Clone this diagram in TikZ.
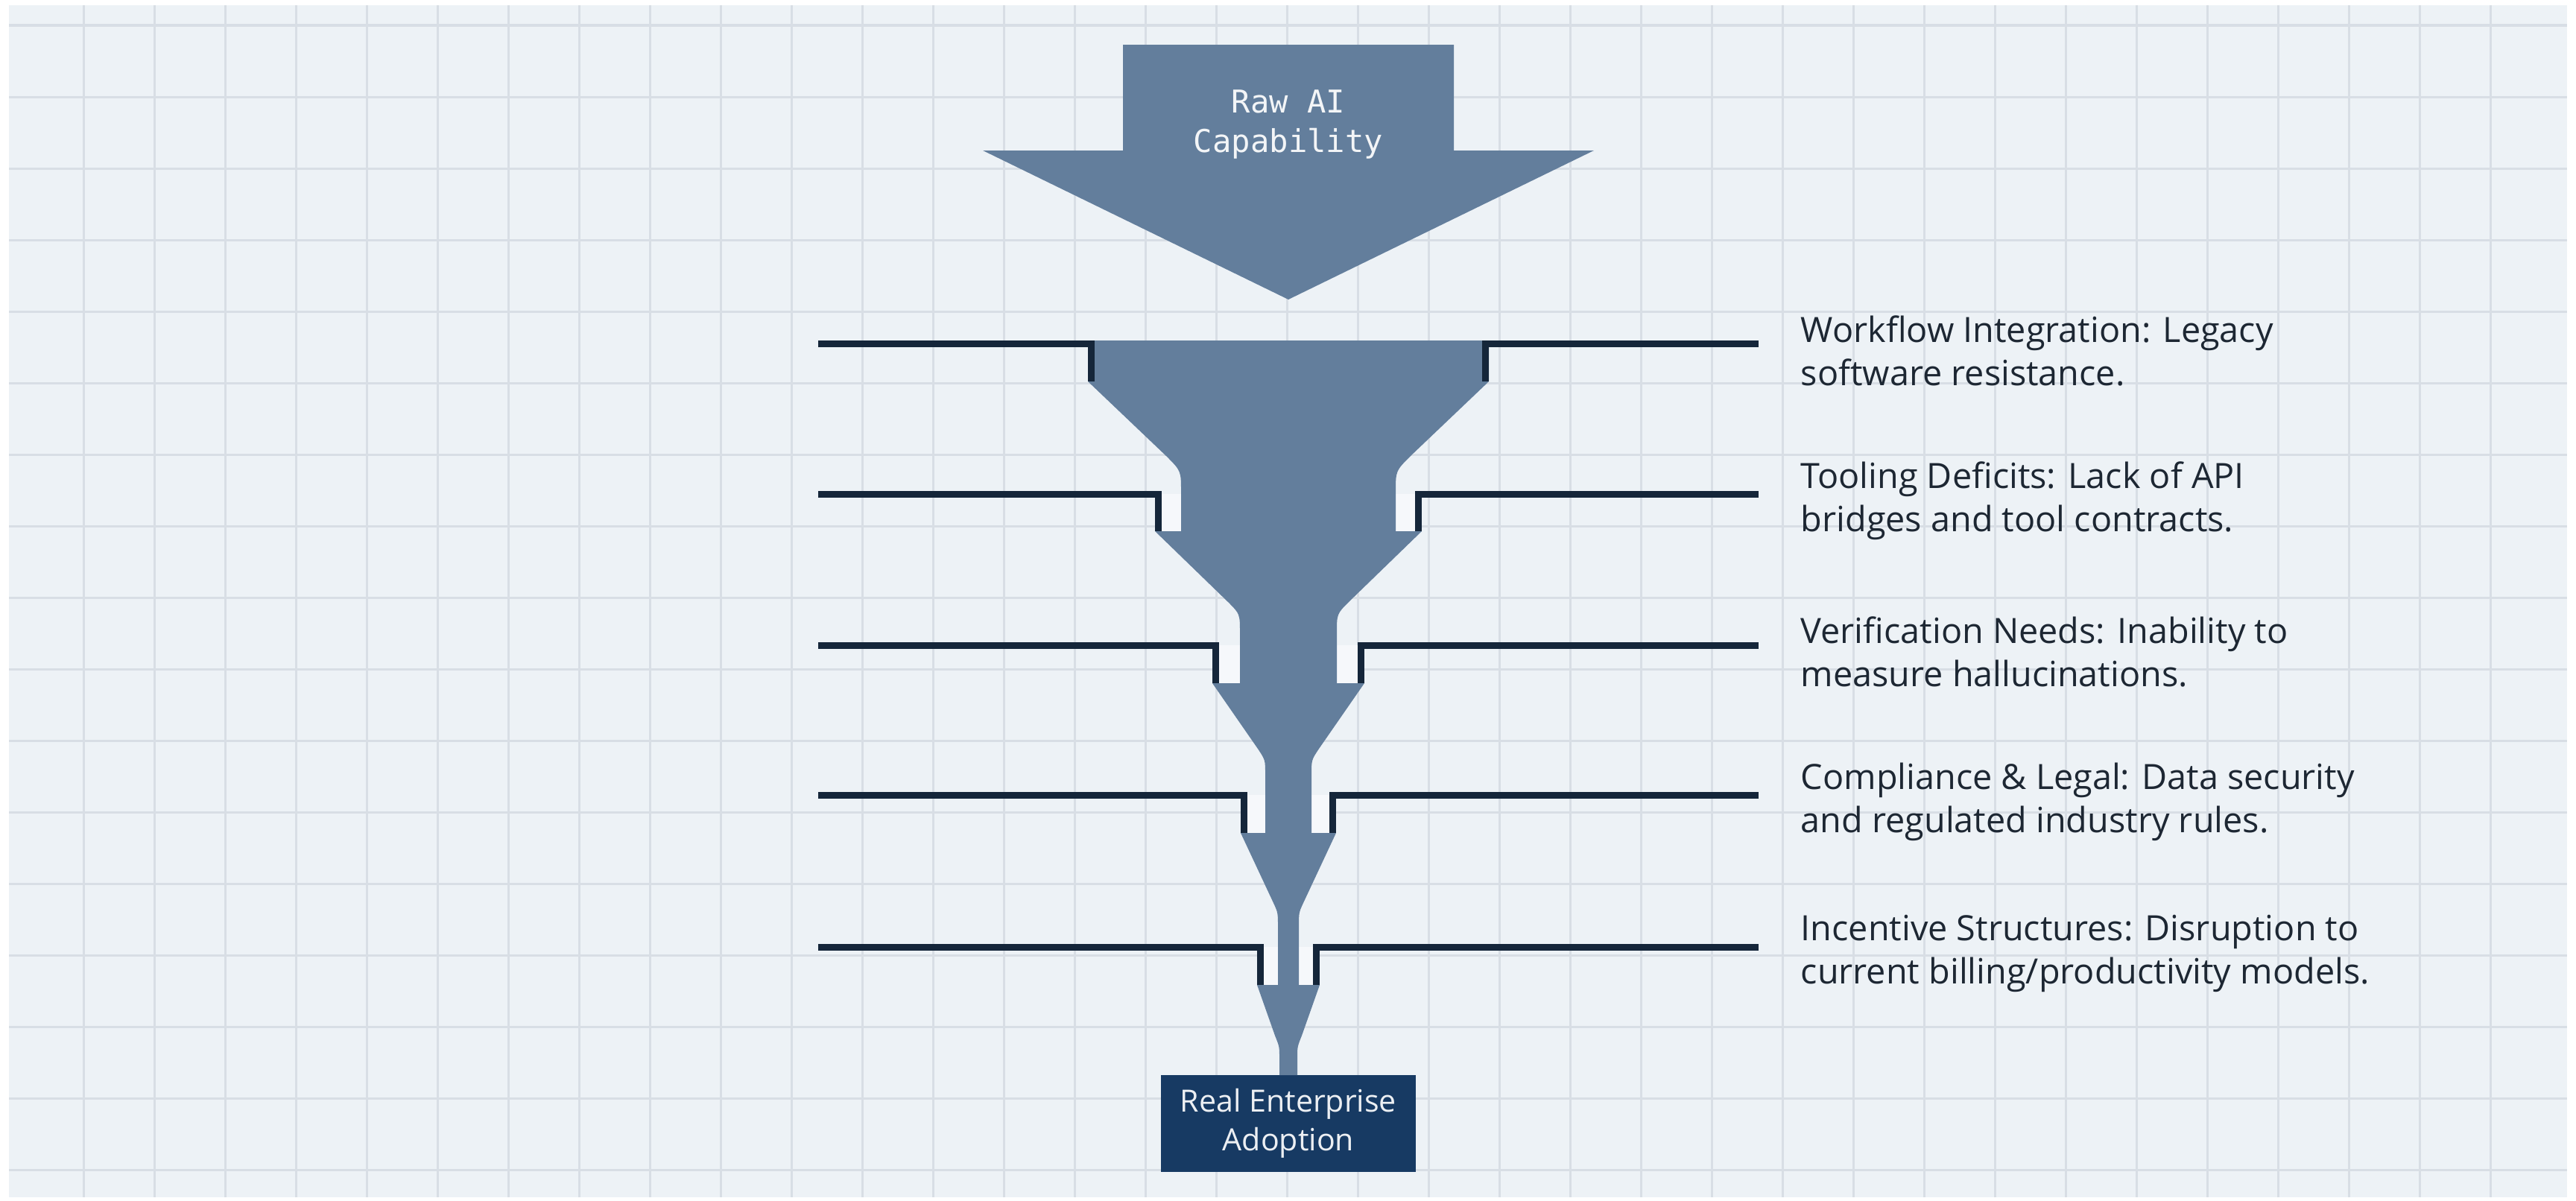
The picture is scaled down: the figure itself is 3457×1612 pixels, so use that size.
\documentclass[tikz,border=0pt]{standalone}
\usepackage{fontspec}
\newfontfamily\labelfont{Open Sans}
\newfontfamily\rawfont{DejaVu Sans Mono}
\usepackage{xcolor}
\usetikzlibrary{positioning}

\definecolor{paper}{HTML}{EDF2F6}
\definecolor{gridgrey}{HTML}{D8DEE5}
\definecolor{flowblue}{HTML}{637E9C}
\definecolor{platenavy}{HTML}{15263A}
\definecolor{boxnavy}{HTML}{173A63}
\definecolor{labelink}{HTML}{1D2733}
\definecolor{gapwhite}{HTML}{F6F8FB}

\begin{document}
\begin{tikzpicture}[x=0.01cm, y=-0.01cm,
  gridline/.style={draw=gridgrey, line width=0.03cm},
  plate/.style={draw=platenavy, line width=0.09cm},
  flow/.style={fill=flowblue},
  gap/.style={fill=gapwhite},
  hurdle/.style={anchor=west, align=left, inner sep=0pt, text=labelink,
    font=\labelfont\fontsize{13.3}{16.5}\selectfont},
  rawtext/.style={align=center, text=white!92!flowblue,
    font=\rawfont\fontsize{12}{15}\selectfont},
  adoptbox/.style={fill=boxnavy, text=white!92!boxnavy, align=center, inner sep=0pt,
    minimum width=3.42cm, minimum height=1.3cm,
    font=\labelfont\fontsize{11.7}{14.7}\selectfont}]
\useasboundingbox (0,0) rectangle (3457,1612);
\fill[white] (0,0) rectangle (3457,1612);
\fill[paper] (12,7) rectangle (3445,1607);

% grid paper
\foreach \gx in {0,...,34}
  \draw[gridline] ({112+95*\gx},7) -- ({112+95*\gx},1607);
\foreach \gy in {0,...,16}
  \draw[gridline] (12,{34+96*\gy}) -- (3445,{34+96*\gy});

% incoming capability
\fill[flow] (1507,60) -- (1951,60) -- (1951,202) -- (2139,202) -- (1729,402)
  -- (1319,202) -- (1507,202) -- cycle;
\node[rawtext] (raw) at (1729,167) {Raw AI\\Capability};

% outcome box
\node[adoptbox] (adopt) at (1729,1508) {Real Enterprise\\Adoption};

% white slots under the plates
\fill[gap] (1550,663) rectangle (1908,713);
\fill[gap] (1627,866) rectangle (1831,917);
\fill[gap] (1665,1067) rectangle (1793,1118);
\fill[gap] (1687,1271) rectangle (1771,1322);

% the narrowing stream
\fill[flow] (1460,457) -- (1460,512) -- (1565,612) .. controls (1585,632) .. (1585,660)
  -- (1585,713) -- (1550,713)
  -- (1648,808) .. controls (1664,824) .. (1664,850) -- (1664,917) -- (1627,917)
  -- (1688,1005) .. controls (1698,1020) .. (1698,1040) -- (1698,1118) -- (1665,1118)
  -- (1709,1212) .. controls (1715,1225) .. (1715,1245) -- (1715,1322) -- (1687,1322)
  -- (1711,1390) .. controls (1717,1405) .. (1717,1420) -- (1717,1443)
  -- (1741,1443) -- (1741,1420) .. controls (1741,1405) .. (1747,1390)
  -- (1771,1322) -- (1743,1322) -- (1743,1245) .. controls (1743,1225) .. (1749,1212)
  -- (1793,1118) -- (1760,1118) -- (1760,1040) .. controls (1760,1020) .. (1770,1005)
  -- (1831,917) -- (1794,917) -- (1794,850) .. controls (1794,824) .. (1810,808)
  -- (1908,713) -- (1873,713) -- (1873,660) .. controls (1873,632) .. (1893,612)
  -- (1998,512) -- (1998,457) -- cycle;

% plates
\coordinate (p1) at (2360,461.5);
\coordinate (p2) at (2360,663);
\coordinate (p3) at (2360,866);
\coordinate (p4) at (2360,1067.5);
\coordinate (p5) at (2360,1271);
\draw[plate] (1098,461.5) -| (1464.5,512);
\draw[plate] (p1) -| (1993.5,512);
\draw[plate] (1098,663) -| (1554.5,713);
\draw[plate] (p2) -| (1903.5,713);
\draw[plate] (1098,866) -| (1631.5,917);
\draw[plate] (p3) -| (1826.5,917);
\draw[plate] (1098,1067.5) -| (1669.5,1118);
\draw[plate] (p4) -| (1788.5,1118);
\draw[plate] (1098,1271) -| (1691.5,1322);
\draw[plate] (p5) -| (1766.5,1322);

% barriers
\node[hurdle, right=0.56cm of p1, yshift=-0.09cm] (workflow) {Workflow Integration: Legacy\\software resistance.};
\node[hurdle, right=0.56cm of p2, yshift=-0.09cm] (tooling) {Tooling Deficits: Lack of API\\bridges and tool contracts.};
\node[hurdle, right=0.56cm of p3, yshift=-0.09cm] (verify) {Verification Needs: Inability to\\measure hallucinations.};
\node[hurdle, right=0.56cm of p4, yshift=-0.09cm] (legal) {Compliance \& Legal: Data security\\and regulated industry rules.};
\node[hurdle, right=0.56cm of p5, yshift=-0.09cm] (incent) {Incentive Structures: Disruption to\\current billing/productivity models.};
\end{tikzpicture}
\end{document}
